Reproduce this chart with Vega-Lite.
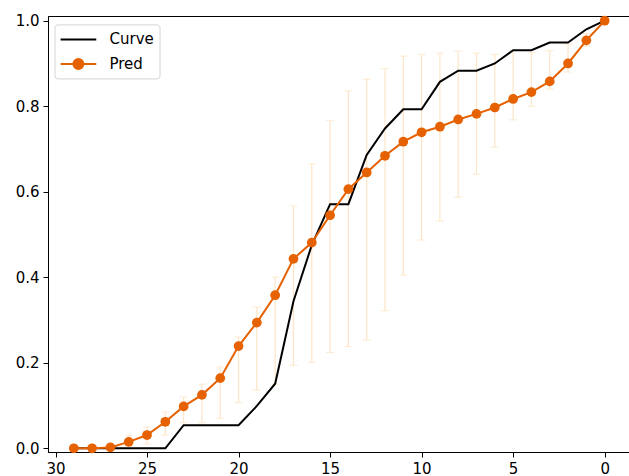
{
  "$schema": "https://vega.github.io/schema/vega-lite/v6.json",
  "width": 581,
  "height": 436,
  "autosize": {"type": "none"},
  "padding": {"left": 48, "top": 16, "right": 0, "bottom": 24},
  "background": "white",
  "config": {
    "view": {"stroke": "black", "strokeWidth": 1},
    "axis": {
      "grid": false,
      "domainColor": "black",
      "domainWidth": 1,
      "tickColor": "black",
      "tickWidth": 1,
      "tickSize": 5,
      "labelPadding": 4,
      "labelColor": "black",
      "labelFont": "DejaVu Sans",
      "labelFontSize": 15,
      "title": null
    },
    "legend": {
      "labelFont": "DejaVu Sans",
      "labelFontSize": 15,
      "labelColor": "black"
    }
  },
  "data": {
    "values": [
      {"x": 29, "curve": 0, "pred": 0, "lo": 0, "hi": 0},
      {"x": 28, "curve": 0, "pred": 0, "lo": 0, "hi": 0},
      {"x": 27, "curve": 0, "pred": 0.002, "lo": 0, "hi": 0.01},
      {"x": 26, "curve": 0, "pred": 0.015, "lo": 0.005, "hi": 0.03},
      {"x": 25, "curve": 0, "pred": 0.031, "lo": 0.01, "hi": 0.05},
      {"x": 24, "curve": 0, "pred": 0.062, "lo": 0.031, "hi": 0.085},
      {"x": 23, "curve": 0.054, "pred": 0.098, "lo": 0.06, "hi": 0.12},
      {"x": 22, "curve": 0.054, "pred": 0.125, "lo": 0.06, "hi": 0.15},
      {"x": 21, "curve": 0.054, "pred": 0.164, "lo": 0.07, "hi": 0.19},
      {"x": 20, "curve": 0.054, "pred": 0.239, "lo": 0.107, "hi": 0.26},
      {"x": 19, "curve": 0.099, "pred": 0.294, "lo": 0.136, "hi": 0.33},
      {"x": 18, "curve": 0.151, "pred": 0.358, "lo": 0.15, "hi": 0.4},
      {"x": 17, "curve": 0.344, "pred": 0.443, "lo": 0.194, "hi": 0.567},
      {"x": 16, "curve": 0.475, "pred": 0.481, "lo": 0.201, "hi": 0.665},
      {"x": 15, "curve": 0.571, "pred": 0.545, "lo": 0.224, "hi": 0.767},
      {"x": 14, "curve": 0.571, "pred": 0.606, "lo": 0.238, "hi": 0.836},
      {"x": 13, "curve": 0.686, "pred": 0.645, "lo": 0.253, "hi": 0.863},
      {"x": 12, "curve": 0.748, "pred": 0.684, "lo": 0.322, "hi": 0.888},
      {"x": 11, "curve": 0.793, "pred": 0.717, "lo": 0.405, "hi": 0.917},
      {"x": 10, "curve": 0.793, "pred": 0.739, "lo": 0.487, "hi": 0.921},
      {"x": 9, "curve": 0.857, "pred": 0.752, "lo": 0.532, "hi": 0.924},
      {"x": 8, "curve": 0.883, "pred": 0.769, "lo": 0.587, "hi": 0.929},
      {"x": 7, "curve": 0.883, "pred": 0.782, "lo": 0.641, "hi": 0.924},
      {"x": 6, "curve": 0.9, "pred": 0.797, "lo": 0.704, "hi": 0.921},
      {"x": 5, "curve": 0.931, "pred": 0.817, "lo": 0.768, "hi": 0.931},
      {"x": 4, "curve": 0.931, "pred": 0.833, "lo": 0.8, "hi": 0.925},
      {"x": 3, "curve": 0.949, "pred": 0.858, "lo": 0.84, "hi": 0.93},
      {"x": 2, "curve": 0.949, "pred": 0.9, "lo": 0.88, "hi": 0.945},
      {"x": 1, "curve": 0.98, "pred": 0.954, "lo": 0.94, "hi": 0.97},
      {"x": 0, "curve": 1.0, "pred": 1.0, "lo": 1.0, "hi": 1.0}
    ]
  },
  "layer": [
    {
      "mark": {"type": "rule", "color": "#fde5c8", "strokeWidth": 1.2},
      "encoding": {
        "x": {"field": "x", "type": "quantitative",
              "scale": {"domain": [-1.33, 30.41], "reverse": true, "nice": false, "zero": false},
              "axis": {"values": [0, 5, 10, 15, 20, 25, 30]}},
        "y": {"field": "lo", "type": "quantitative",
              "scale": {"domain": [-0.0087, 1.011], "nice": false, "zero": false},
              "axis": {"values": [0, 0.2, 0.4, 0.6, 0.8, 1.0], "format": ".1f"}},
        "y2": {"field": "hi"}
      }
    },
    {
      "mark": {"type": "tick", "orient": "horizontal", "color": "#fde5c8", "size": 8, "thickness": 1.2},
      "encoding": {
        "x": {"field": "x", "type": "quantitative"},
        "y": {"field": "lo", "type": "quantitative"}
      }
    },
    {
      "mark": {"type": "tick", "orient": "horizontal", "color": "#fde5c8", "size": 8, "thickness": 1.2},
      "encoding": {
        "x": {"field": "x", "type": "quantitative"},
        "y": {"field": "hi", "type": "quantitative"}
      }
    },
    {
      "mark": {"type": "line", "strokeWidth": 2},
      "encoding": {
        "x": {"field": "x", "type": "quantitative"},
        "y": {"field": "curve", "type": "quantitative"},
        "color": {
          "datum": "Curve",
          "scale": {"domain": ["Curve", "Pred"], "range": ["black", "#e66100"]},
          "legend": {
            "title": null,
            "orient": "none",
            "legendX": 6.5,
            "legendY": 8.4,
            "fillColor": "white",
            "strokeColor": "#d4d4d4",
            "cornerRadius": 3,
            "padding": 5,
            "symbolSize": 318,
            "symbolStrokeWidth": 2,
            "labelOffset": 30,
            "rowPadding": 6.5,
            "encode": {
              "symbols": {
                "update": {
                  "shape": {"signal": "datum.value === 'Pred' ? 'M-1,0L3,0M0.44,0A0.56,0.56 0 1,1 1.56,0A0.56,0.56 0 1,1 0.44,0Z' : 'M-1,0L3,0'"},
                  "fill": {"signal": "datum.value === 'Pred' ? '#e66100' : 'transparent'"}
                }
              }
            }
          }
        }
      }
    },
    {
      "mark": {"type": "line", "strokeWidth": 2, "point": {"filled": true, "size": 95, "opacity": 1}},
      "encoding": {
        "x": {"field": "x", "type": "quantitative"},
        "y": {"field": "pred", "type": "quantitative"},
        "color": {"datum": "Pred"}
      }
    }
  ]
}
